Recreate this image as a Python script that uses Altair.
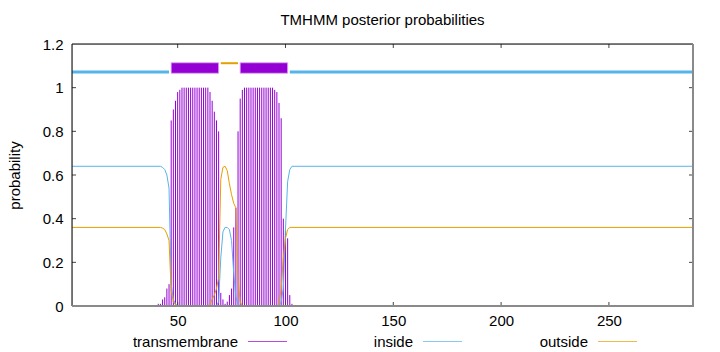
import altair as alt
import pandas as pd

# ---------------- data ----------------
seq_len = 289
x_ticks = [50, 100, 150, 200, 250]
y_ticks = [0, 0.2, 0.4, 0.6, 0.8, 1.0, 1.2]

# transmembrane posterior probability (impulses), residues 41..103
tm_res = list(range(41, 104))
tm_prob = [0.01, 0.01, 0.03, 0.04, 0.08, 0.10,            # 41-46
           0.85, 0.90, 0.94, 0.98, 0.99,                  # 47-51
           1.0, 1.0, 1.0, 1.0, 1.0, 1.0, 1.0, 1.0, 1.0, 1.0, 1.0, 1.0, 1.0,  # 52-64
           0.98, 0.94, 0.89, 0.85, 0.80,                  # 65-69
           0.06, 0.03, 0.01, 0.02, 0.05, 0.08,            # 70-75
           0.36, 0.45, 0.80, 0.95, 0.99,                  # 76-80
           1.0, 1.0, 1.0, 1.0, 1.0, 1.0, 1.0, 1.0, 1.0, 1.0, 1.0, 1.0, 1.0, 1.0,  # 81-94
           0.99, 0.98, 0.93, 0.86,                        # 95-98
           0.40, 0.35, 0.31, 0.05, 0.01]                  # 99-103

# inside probability (line), breakpoints
inside_res = [1, 42, 43, 44, 45, 46, 47, 48, 49, 50, 68, 69, 70, 71, 72, 73, 74,
              75, 76, 77, 78, 79, 97, 98, 99, 100, 101, 102, 103, 289]
inside_prob = [0.64, 0.64, 0.635, 0.625, 0.60, 0.54, 0.10, 0.03, 0.01, 0.0, 0.0,
               0.02, 0.22, 0.34, 0.36, 0.36, 0.35, 0.30, 0.15, 0.04, 0.01, 0.0,
               0.0, 0.02, 0.08, 0.35, 0.57, 0.625, 0.64, 0.64]

# outside probability (line), breakpoints
outside_res = [1, 42, 43, 44, 45, 46, 47, 48, 49, 50, 64, 65, 66, 67, 68, 69, 70,
               71, 72, 73, 74, 75, 76, 77, 78, 79, 80, 96, 97, 98, 99, 100, 101,
               102, 289]
outside_prob = [0.36, 0.36, 0.357, 0.35, 0.33, 0.30, 0.07, 0.02, 0.005, 0.0, 0.0,
                0.01, 0.03, 0.05, 0.08, 0.13, 0.58, 0.635, 0.64, 0.62, 0.56, 0.51,
                0.47, 0.45, 0.12, 0.02, 0.0, 0.0, 0.01, 0.08, 0.22, 0.31, 0.35,
                0.36, 0.36]

# predicted topology (top band)
inside_seg_start = [1, 102]
inside_seg_end = [46, 289]
tm_seg_start = [47, 79]
tm_seg_end = [69, 101]
outside_seg_start = [70]
outside_seg_end = [78]

series_names = ["transmembrane", "inside", "outside"]
series_colors = ["#9400d3", "#56b4e9", "#e69f00"]
chart_title = "TMHMM posterior probabilities"

# ---------------- layout / style ----------------
W, H = 621, 262
FONT = "Liberation Sans"
FS = 15
band_inside_y = 1.072
band_tm_y0, band_tm_y1 = 1.066, 1.114
band_outside_y = 1.112

xs = alt.Scale(domain=[1, seq_len], nice=False, zero=False)
ys = alt.Scale(domain=[0, 1.2], nice=False, zero=False)
x_axis = alt.Axis(values=x_ticks, ticks=False, domain=False, grid=False,
                  labelFont=FONT, labelFontSize=FS, labelColor="black",
                  labelPadding=7, labelFlush=False, title=None)
y_axis = alt.Axis(values=y_ticks, format="~g", ticks=False, domain=False, grid=False,
                  labelFont=FONT, labelFontSize=FS, labelColor="black",
                  labelPadding=9, labelFlush=False,
                  title="probability", titleFont=FONT, titleFontSize=FS,
                  titleFontWeight="normal", titleColor="black", titlePadding=20)

def X(field):
    return alt.X(field, type="quantitative", scale=xs, axis=x_axis)

def Y(field):
    return alt.Y(field, type="quantitative", scale=ys, axis=y_axis)

tm_df = pd.DataFrame({"res": tm_res, "p": tm_prob})
inside_df = pd.DataFrame({"res": inside_res, "p": inside_prob})
outside_df = pd.DataFrame({"res": outside_res, "p": outside_prob})

impulses = alt.Chart(tm_df).mark_rule(color=series_colors[0], strokeWidth=1).encode(
    x=X("res"), y=Y("p"), y2=alt.datum(0))
inside_line = alt.Chart(inside_df).mark_line(color=series_colors[1], strokeWidth=1).encode(
    x=X("res"), y=Y("p"))
outside_line = alt.Chart(outside_df).mark_line(color=series_colors[2], strokeWidth=1).encode(
    x=X("res"), y=Y("p"))

band_in = alt.Chart(pd.DataFrame({"s": inside_seg_start, "e": inside_seg_end,
                                  "y": [band_inside_y] * len(inside_seg_start)})
                    ).mark_rule(color=series_colors[1], strokeWidth=3).encode(
    x=X("s"), x2="e", y=Y("y"))
band_tm = alt.Chart(pd.DataFrame({"s": tm_seg_start, "e": tm_seg_end,
                                  "y0": [band_tm_y0] * len(tm_seg_start),
                                  "y1": [band_tm_y1] * len(tm_seg_start)})
                    ).mark_rect(color=series_colors[0], stroke="#d9a6ef", strokeWidth=0.8).encode(
    x=X("s"), x2="e", y=Y("y0"), y2="y1")
band_out = alt.Chart(pd.DataFrame({"s": outside_seg_start, "e": outside_seg_end,
                                   "y": [band_outside_y] * len(outside_seg_start)})
                     ).mark_rule(color=series_colors[2], strokeWidth=2).encode(
    x=X("s"), x2="e", y=Y("y"))

# inward tick marks on all four sides
xt = pd.DataFrame({"t": x_ticks})
yt = pd.DataFrame({"t": y_ticks[1:-1]})
tick_style = dict(color="#444", strokeWidth=1)
ticks = [
    alt.Chart(xt).mark_rule(**tick_style).encode(x=X("t"), y=alt.value(H), y2=alt.value(H - 4)),
    alt.Chart(xt).mark_rule(**tick_style).encode(x=X("t"), y=alt.value(0), y2=alt.value(4)),
    alt.Chart(yt).mark_rule(**tick_style).encode(y=Y("t"), x=alt.value(0), x2=alt.value(4)),
    alt.Chart(yt).mark_rule(**tick_style).encode(y=Y("t"), x=alt.value(W), x2=alt.value(W - 4)),
]

one = pd.DataFrame({"k": [0]})
border = [
    alt.Chart(one).mark_rule(color="#000", strokeWidth=1).encode(
        x=alt.value(0), x2=alt.value(W), y=alt.value(0)),
    alt.Chart(one).mark_rule(color="#000", strokeWidth=1).encode(
        x=alt.value(0), y=alt.value(0), y2=alt.value(H)),
    alt.Chart(one).mark_rule(color="#8a8a8a", strokeWidth=2).encode(
        x=alt.value(0), x2=alt.value(W + 1), y=alt.value(H)),
    alt.Chart(one).mark_rule(color="#8a8a8a", strokeWidth=2).encode(
        x=alt.value(W), y=alt.value(0), y2=alt.value(H + 1)),
]

# title as a text mark above the plot
title_layer = alt.Chart(pd.DataFrame({"t": [chart_title]})).mark_text(
    align="center", baseline="alphabetic", font=FONT, fontSize=FS, color="black").encode(
    text="t:N", x=alt.value(W / 2), y=alt.value(-19))

# legend (gnuplot style: label then sample line)
legend_text_right = [166, 341, 516]
legend_y = 297.5
legend = []
for name, col, xr in zip(series_names, series_colors, legend_text_right):
    legend.append(alt.Chart(pd.DataFrame({"name": [name]})).mark_text(
        align="right", baseline="middle", font=FONT, fontSize=FS, color="black").encode(
        text="name:N", x=alt.value(xr), y=alt.value(legend_y)))
    legend.append(alt.Chart(pd.DataFrame({"name": [name]})).mark_rule(
        color=col, strokeWidth=1, opacity=0.7).encode(
        x=alt.value(xr + 10), x2=alt.value(xr + 49), y=alt.value(legend_y)))

chart = alt.layer(
    impulses, inside_line, outside_line, band_in, band_tm, band_out,
    *ticks, *border, title_layer, *legend
).properties(
    width=W, height=H,
    autosize=alt.AutoSizeParams(type="none"),
    padding={"left": 72, "top": 44, "right": 27, "bottom": 46},
).configure_view(stroke=None).configure(background="white")

chart.save("out.html", embed_options={"renderer": "svg", "actions": False})
